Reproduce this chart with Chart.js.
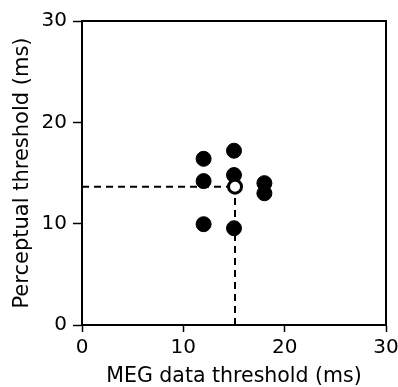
<!DOCTYPE html>
<html>
<head>
<meta charset="utf-8">
<script src="https://cdn.jsdelivr.net/npm/chart.js@4/dist/chart.umd.min.js"></script>
<style>
  html, body { margin: 0; padding: 0; background: #fff; }
  #wrap { width: 398px; height: 387px; }
</style>
</head>
<body>
<div id="wrap"><canvas id="thresholdChart"></canvas></div>
<script>
// subject thresholds (filled) and group mean (open)
const megThreshold = [12, 12, 12, 15, 15, 15, 18, 18];
const perceptThreshold = [16.4, 14.2, 9.95, 17.2, 14.8, 9.55, 14.0, 13.0];
const meanMeg = [15.1];
const meanPercept = [13.65];
const axisTicks = [0, 10, 20, 30];

const FONT = "'DejaVu Sans', sans-serif";

// outline the plot box (top and right sides have no axis)
const frame = {
  id: 'frame',
  afterDatasetsDraw(chart) {
    const a = chart.chartArea, c = chart.ctx;
    c.save();
    c.strokeStyle = '#000';
    c.lineWidth = 2;
    c.strokeRect(a.left, a.top, a.right - a.left, a.bottom - a.top);
    c.restore();
  }
};

document.addEventListener("DOMContentLoaded", function() {
  const ctx = document.getElementById('thresholdChart').getContext('2d');
  const mx = meanMeg[0], my = meanPercept[0];
  new Chart(ctx, {
    type: 'scatter',
    data: {
      datasets: [{
        label: 'Mean',
        data: meanMeg.map((x, i) => ({ x: x, y: meanPercept[i] })),
        backgroundColor: '#fff',
        borderColor: '#000',
        borderWidth: 3,
        pointRadius: 6.5,
        order: 0
      }, {
        label: 'Subjects',
        data: megThreshold.map((x, i) => ({ x: x, y: perceptThreshold[i] })),
        backgroundColor: '#000',
        borderColor: '#000',
        borderWidth: 1,
        pointRadius: 7.5,
        order: 1
      }, {
        type: 'line',
        label: 'h-guide',
        data: [{ x: 0, y: my }, { x: mx, y: my }],
        borderColor: '#000',
        borderWidth: 2,
        borderDash: [7, 5],
        pointRadius: 0,
        order: 2
      }, {
        type: 'line',
        label: 'v-guide',
        data: [{ x: mx, y: 0 }, { x: mx, y: my }],
        borderColor: '#000',
        borderWidth: 2,
        borderDash: [7, 5],
        pointRadius: 0,
        order: 2
      }]
    },
    options: {
      responsive: true,
      maintainAspectRatio: false,
      animation: false,
      layout: { padding: { left: 0, top: 21, right: 12, bottom: 0 } },
      plugins: { legend: { display: false }, tooltip: { enabled: false } },
      scales: {
        x: {
          type: 'linear', min: 0, max: 30,
          afterBuildTicks: s => { s.ticks = axisTicks.map(v => ({ value: v })); },
          afterFit: s => { s.height = 62; s.paddingLeft = 0; s.paddingRight = 0; },
          border: { display: true, color: '#000', width: 2 },
          grid: { drawOnChartArea: false, drawTicks: true, tickLength: 7, tickWidth: 1.5, tickColor: '#000' },
          ticks: { color: '#000', font: { family: FONT, size: 20 }, padding: 4, maxRotation: 0 },
          title: { display: true, text: 'MEG data threshold (ms)', color: '#000',
                   font: { family: FONT, size: 20.5, lineHeight: 1 }, padding: 0 }
        },
        y: {
          type: 'linear', min: 0, max: 30,
          afterBuildTicks: s => { s.ticks = axisTicks.map(v => ({ value: v })); },
          afterFit: s => { s.width = 82; s.paddingTop = 0; s.paddingBottom = 0; },
          border: { display: true, color: '#000', width: 2 },
          grid: { drawOnChartArea: false, drawTicks: true, tickLength: 9, tickWidth: 1.5, tickColor: '#000' },
          ticks: { color: '#000', font: { family: FONT, size: 20 }, padding: 6 },
          title: { display: true, text: 'Perceptual threshold (ms)', color: '#000',
                   font: { family: FONT, size: 21, lineHeight: 1 }, padding: { top: 12, bottom: 0 } }
        }
      }
    },
    plugins: [frame]
  });
});
</script>
</body>
</html>
